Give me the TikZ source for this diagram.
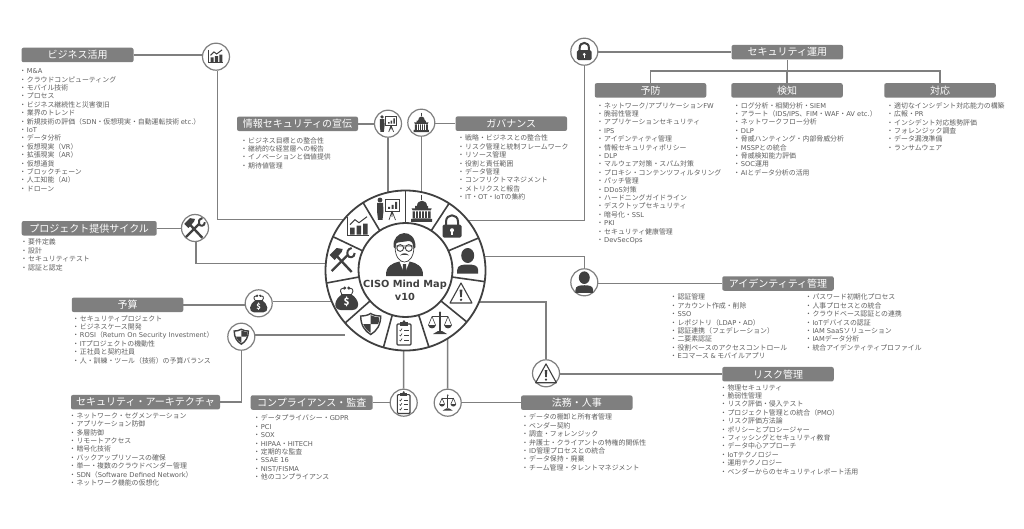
\documentclass[tikz,border=0pt]{standalone}
\usepackage{fontspec}
\usepackage{xcolor}
\setmainfont{Noto Sans CJK JP}
\newfontfamily\hubfont{DejaVu Sans}
\usetikzlibrary{arrows,positioning}
\definecolor{boxgray}{HTML}{7F7F7F}
\definecolor{icondark}{HTML}{404040}
\definecolor{txtgray}{HTML}{5F5F5F}
\newcommand\lidot{\kern-2.5pt・\kern.6pt}
\newcommand\la[1]{{\hubfont\fontsize{6.7}{8.4}\selectfont #1}}
\tikzset{
  headbox/.style={fill=boxgray,rounded corners=2pt,inner sep=0,minimum height=14.5pt,text=white,font=\fontsize{10}{12}\selectfont},
  listtext/.style={anchor=north west,inner sep=0,align=left,text=txtgray,yshift=-1pt,font=\fontsize{6.9}{8.4}\selectfont},
  bubble/.style={circle,draw=boxgray,line width=1.2pt,fill=white,minimum size=27pt,inner sep=0},
  link/.style={draw=boxgray,line width=1.5pt},
  charticon/.pic={
    \draw[icondark,line width=.9pt] (-11,-10) -- (-11,9) -- (11,9);
    \fill[icondark] (-8,1) rectangle (-3.5,8) (-1.5,-1) rectangle (3,8) (5,-3) rectangle (9.5,8);
    \draw[icondark,line width=1pt] (-8,-2) -- (-3,-7) -- (1,-4) -- (9,-10);
  },
  talkicon/.pic={
    \fill[icondark] (-8,-9) circle (2.4);
    \fill[icondark] (-11,-6) -- (-5,-6) -- (-4.5,2) -- (-5.5,11) -- (-10,11) -- (-11,2) -- cycle;
    \draw[icondark,line width=.9pt,fill=white] (-3,-10) rectangle (11,2);
    \fill[icondark] (0,-2) rectangle (2,0) (3.5,-4) rectangle (5.5,0) (7,-7) rectangle (9,0);
    \draw[icondark,line width=.7pt] (4,2) -- (1,11) (4,2) -- (7.5,11) (4,2) -- (4,8);
  },
  domeicon/.pic={
    \draw[icondark,line width=.9pt] (0,-14) -- (0,-9);
    \fill[icondark] (-5,-3) .. controls (-5,-10) and (5,-10) .. (5,-3) -- cycle;
    \fill[icondark] (-6.5,-3) rectangle (6.5,-.5) (-10,-.5) -- (10,-.5) -- (9,1.5) -- (-9,1.5) -- cycle;
    \fill[icondark] (-9,2.5) rectangle (9,9.5) (-10.5,10) rectangle (10.5,13);
    \draw[white,line width=.8pt] (-6,2.5) -- (-6,9.5) (-3,2.5) -- (-3,9.5) (0,2.5) -- (0,9.5) (3,2.5) -- (3,9.5) (6,2.5) -- (6,9.5);
  },
  lockicon/.pic={
    \draw[icondark,line width=2pt] (-6,-1) -- (-6,-5) .. controls (-6,-13.5) and (6,-13.5) .. (6,-5) -- (6,-1);
    \fill[icondark,rounded corners=1.5pt] (-9.5,-2) rectangle (9.5,11);
    \fill[white] (0,3.5) circle (2);
    \fill[white] (-.8,3.5) rectangle (.8,8);
  },
  usericon/.pic={
    \fill[icondark] (0,-5.5) ellipse (6.5 and 7.5);
    \fill[icondark] (-10.5,12.5) -- (-10.5,9) .. controls (-10.5,4) and (-5,3.5) .. (0,3.5) .. controls (5,3.5) and (10.5,4) .. (10.5,9) -- (10.5,12.5) -- cycle;
  },
  warnicon/.pic={
    \draw[icondark,line width=1.1pt,line join=round] (0,-10) -- (11,10) -- (-11,10) -- cycle;
    \fill[icondark] (-1.4,-3.5) -- (1.4,-3.5) -- (.8,4) -- (-.8,4) -- cycle;
    \fill[icondark] (0,6.8) circle (1.3);
  },
  balanceicon/.pic={
    \draw[icondark,line width=1.5pt] (0,-10) -- (0,8);
    \fill[icondark] (0,-10.5) circle (1.2);
    \fill[icondark] (-2,8) -- (2,8) -- (7,11) -- (-7,11) -- cycle;
    \draw[icondark,line width=1.1pt] (-8,-6.5) -- (8,-6.5);
    \draw[icondark,line width=.6pt] (-8,-6.5) -- (-11.5,2) (-8,-6.5) -- (-4.5,2) (8,-6.5) -- (11.5,2) (8,-6.5) -- (4.5,2);
    \fill[icondark] (-12,2) .. controls (-11,6.5) and (-5,6.5) .. (-4,2) -- cycle;
    \fill[icondark] (12,2) .. controls (11,6.5) and (5,6.5) .. (4,2) -- cycle;
  },
  checkicon/.pic={
    \draw[icondark,line width=1.1pt,rounded corners=1pt] (-7,-9) rectangle (7,12);
    \fill[icondark] (-4,-11) rectangle (4,-7);
    \fill[icondark] (0,-11.5) circle (1.3);
    \draw[icondark,line width=.6pt] (-4.5,-3) -- (-3.5,-2) -- (-2,-4.5) (-4.5,2) -- (-3.5,3) -- (-2,.5) (-4.5,7) -- (-3.5,8) -- (-2,5.5);
    \draw[icondark,line width=.6pt] (0,-3) -- (4.5,-3) (0,2) -- (4.5,2) (0,7) -- (4.5,7);
  },
  shieldicon/.pic={
    \draw[icondark,line width=1.4pt,fill=white] (0,-10.5) .. controls (-3,-8.5) and (-7,-8) .. (-10,-8) .. controls (-10,1) and (-6,7) .. (0,10.5) .. controls (6,7) and (10,1) .. (10,-8) .. controls (7,-8) and (3,-8.5) .. (0,-10.5) -- cycle;
    \fill[icondark] (0,-8.8) .. controls (3,-7.3) and (6,-6.8) .. (8.5,-6.6) .. controls (8.5,-3) and (8,-2) .. (7.5,0) -- (0,0) -- cycle;
    \fill[icondark] (0,0) -- (-7.5,0) .. controls (-6,4) and (-3,7) .. (0,8.8) -- cycle;
  },
  bagicon/.pic={
    \fill[icondark] (-4,-4) .. controls (-13,1) and (-14,11.5) .. (-6,12) -- (6,12) .. controls (14,11.5) and (13,1) .. (4,-4) -- cycle;
    \draw[icondark,line width=.9pt] (-5,-4) .. controls (-8,-8) and (-5,-11) .. (-2,-9) (5,-4) .. controls (8,-8) and (5,-11) .. (2,-9);
    \fill[icondark] (-2,-10) circle (1.6) (2,-10) circle (1.6);
    \fill[icondark] (-5.5,-4.5) rectangle (5.5,-3);
    \node[text=white,inner sep=0,transform shape,font=\bfseries\fontsize{10}{10}\selectfont] (dollar) at (0,4) {\$};
  },
  toolicon/.pic={
    \draw[icondark,line width=2.4pt] (9,12) -- (-6,-4);
    \fill[icondark] (-13,-5) -- (-6,-12) -- (0,-11) -- (-1,-8) -- (-8,0) -- cycle;
    \draw[icondark,line width=2.4pt] (-11,11) -- (5,-5);
    \draw[icondark,line width=2pt] (12,-7) .. controls (12,-2) and (6,-1.5) .. (5,-5) .. controls (4,-8) and (5,-11) .. (9,-12);
  },
  cisoicon/.pic={
    \fill[icondark] (-18.5,26) .. controls (-19,16) and (-12,13) .. (-5,11.5) -- (5,11.5) .. controls (12,13) and (19,16) .. (18.5,26) -- cycle;
    \fill[white] (-5,11.5) -- (0,24) -- (5,11.5) -- cycle;
    \fill[icondark] (-1.5,14) -- (1.5,14) -- (2,22) -- (0,26) -- (-2,22) -- cycle;
    \draw[icondark,line width=.7pt,fill=white] (-9.5,-4) .. controls (-9.5,8) and (-4,12) .. (0,12) .. controls (4,12) and (9.5,8) .. (9.5,-4) -- cycle;
    \fill[icondark] (-11,-3) .. controls (-12.5,-20) and (11,-23) .. (11,-3) -- (9,-1) .. controls (9,-7) and (7,-9) .. (4,-9) .. controls (-1,-8) and (-6,-8) .. (-8,-7) .. controls (-9,-5) and (-9,-3) .. (-9,-1) -- cycle;
    \draw[icondark,line width=.9pt] (-4.3,-2) circle (3.4) (4.3,-2) circle (3.4) (-1,-2) -- (1,-2);
    \fill[icondark] (-4.5,5.5) .. controls (-2,2.5) and (2,2.5) .. (4.5,5.5) .. controls (2,4.5) and (-2,4.5) .. (-4.5,5.5) -- cycle;
  }
}
\begin{document}
\begin{tikzpicture}[x=1pt,y=-1pt]
\useasboundingbox[fill=white] (0,0) rectangle (1024,529);
\node[headbox,minimum width=112pt] (bizbox) at (77.5,55) {ビジネス活用};
\node[headbox,minimum width=121pt] (awarebox) at (297.5,123.8) {情報セキュリティの宣伝};
\node[headbox,minimum width=135pt] (projbox) at (89.2,228.3) {プロジェクト提供サイクル};
\node[headbox,minimum width=111.5pt] (govbox) at (511.3,123.7) {ガバナンス};
\node[headbox,minimum width=111.5pt] (opsbox) at (787.3,52.2) {セキュリティ運用};
\node[headbox,minimum width=111.5pt] (prevbox) at (650.5,90.4) {予防};
\node[headbox,minimum width=111.5pt] (detbox) at (787,90.4) {検知};
\node[headbox,minimum width=111.5pt] (respbox) at (940,90.4) {対応};
\node[headbox,minimum width=111.5pt] (idbox) at (778,283.5) {アイデンティティ管理};
\node[headbox,minimum width=111.5pt] (riskbox) at (778,374.2) {リスク管理};
\node[headbox,minimum width=111.5pt] (legalbox) at (576.8,402.7) {法務・人事};
\node[headbox,minimum width=122pt] (compbox) at (311.7,402.5) {コンプライアンス・監査};
\node[headbox,minimum width=111.5pt] (budgbox) at (127.5,304.8) {予算};
\node[headbox,minimum width=149pt] (archbox) at (145.5,402.2) {セキュリティ・アーキテクチャ};

\node[bubble] (chart) at (216,56.7) {};
\node[bubble] (tools) at (195,228) {};
\node[bubble] (talk) at (388,123.7) {};
\node[bubble] (dome) at (421.3,122.7) {};
\node[bubble] (lock) at (584.3,51.7) {};
\node[bubble] (user) at (584.3,282.3) {};
\node[bubble] (warn) at (546,373.3) {};
\node[bubble] (balance) at (447.7,402.7) {};
\node[bubble] (check) at (403.7,402.7) {};
\node[bubble] (bag) at (258.7,303.3) {};
\node[bubble] (shield) at (241.3,336.7) {};

\coordinate (wchart) at (345,219.5);
\coordinate (wtools) at (335,263.3);
\coordinate (wtalk) at (388,200);
\coordinate (wdome) at (421.3,200);
\coordinate (wlock) at (465,220.7);
\coordinate (wuser) at (480,256.7);
\coordinate (wwarn) at (475,302);
\coordinate (wbalance) at (447.5,335);
\coordinate (wcheck) at (403.5,345);
\coordinate (wbag) at (335,301.7);
\coordinate (wshield) at (345,335);
\coordinate (tree) at (787,71);

\draw[link] (bizbox.east) -- (bizbox.east -| chart.west);
\draw[link] (chart.south -| 217.5,0) |- (wchart);
\draw[link] (projbox.east) -- (projbox.east -| tools.west);
\draw[link] (tools.south -| 196,0) |- (wtools);
\draw[link] (awarebox.east) -- (awarebox.east -| talk.west);
\draw[link] (talk) -- (wtalk);
\draw[link] (dome) -- (wdome);
\draw[link] (dome.east |- govbox.west) -- (govbox.west);
\draw[link] (lock.east |- opsbox.west) -- (opsbox.west);
\draw[link] (lock) |- (wlock);
\draw[link] (user.north) |- (wuser);
\draw[link] (user.east |- idbox.west) -- (idbox.west);
\draw[link] (warn.north) |- (wwarn);
\draw[link] (warn.east |- riskbox.west) -- (riskbox.west);
\draw[link] (balance) -- (wbalance);
\draw[link] (balance.east |- legalbox.west) -- (legalbox.west);
\draw[link] (check) -- (wcheck);
\draw[link] (compbox.east) -- (compbox.east -| check.west);
\draw[link] (budgbox.east) -- (budgbox.east -| bag.west);
\draw[link] (bag.east |- wbag) -- (wbag);
\draw[link] (shield.east |- wshield) -- (wshield);
\draw[link] (shield.south) |- (archbox.east);
\draw[link] (opsbox.south) -- (opsbox.south |- tree);
\draw[link] (prevbox.north) |- (tree);
\draw[link] (respbox.north) |- (tree);
\draw[link] (tree) -- (detbox.north);

\node[circle,draw=icondark,line width=1.8pt,fill=white,minimum size=160pt,inner sep=0,outer sep=0] (wheel) at (405.5,270.5) {};
\draw[icondark,line width=1.6pt] (wheel.90) -- (405.5,223);
\draw[icondark,line width=1.6pt] (wheel.57.3) -- (431,231);
\draw[icondark,line width=1.6pt] (wheel.24.5) -- (448,251);
\draw[icondark,line width=1.6pt] (wheel.-8.2) -- (452,277);
\draw[icondark,line width=1.6pt] (wheel.-40.9) -- (441,301);
\draw[icondark,line width=1.6pt] (wheel.-73.6) -- (419,316);
\draw[icondark,line width=1.6pt] (wheel.-106.4) -- (392,316);
\draw[icondark,line width=1.6pt] (wheel.-139.1) -- (370,301);
\draw[icondark,line width=1.6pt] (wheel.-171.8) -- (359,277);
\draw[icondark,line width=1.6pt] (wheel.155.5) -- (363,251);
\draw[icondark,line width=1.6pt] (wheel.122.7) -- (380,231);
\node[circle,draw=icondark,line width=1.8pt,fill=white,minimum size=94pt,inner sep=0] (hub) at (405.5,270) {};

\pic at (358,226.7) {charticon};
\pic at (388,209) {talkicon};
\pic at (421.7,209) {domeicon};
\pic at (452,226.7) {lockicon};
\pic at (467.7,261) {usericon};
\pic at (461,293) {warnicon};
\pic at (440,323) {balanceicon};
\pic at (404,333) {checkicon};
\pic at (370.7,324) {shieldicon};
\pic at (346.7,298) {bagicon};
\pic at (342.7,260) {toolicon};

\pic[scale=.68] at (216,56.7) {charticon};
\pic[scale=.82] at (195,228) {toolicon};
\pic[scale=.75] at (388,123.7) {talkicon};
\pic[scale=.72] at (421.3,122.7) {domeicon};
\pic[scale=.77] at (584.3,51.7) {lockicon};
\pic[scale=.84] at (584.3,282.3) {usericon};
\pic[scale=.94] at (546,373.3) {warnicon};
\pic[scale=.71] at (447.7,402.7) {balanceicon};
\pic[scale=.9] at (403.7,402.7) {checkicon};
\pic[scale=.76] at (258.7,303.3) {bagicon};
\pic[scale=.71] at (241.3,336.7) {shieldicon};

\pic at (404.5,250) {cisoicon};
\node[inner sep=0,align=center,text=icondark,font=\hubfont\bfseries\fontsize{9.8}{12.7}\selectfont] (title) at (405,290.5) {CISO Mind Map\\v10};

\node[listtext] (bizlist) at (21.7,67.5) {\lidot \la{M\&A}\\\lidot クラウドコンピューティング\\\lidot モバイル技術\\\lidot プロセス\\\lidot ビジネス継続性と災害復旧\\\lidot 業界のトレンド\\\lidot 新規技術の評価（\la{SDN}・仮想現実・自動運転技術 \la{etc.}）\\\lidot \la{IoT}\\\lidot データ分析\\\lidot 仮想現実（\la{VR}）\\\lidot 拡張現実（\la{AR}）\\\lidot 仮想通貨\\\lidot ブロックチェーン\\\lidot 人工知能（\la{AI}）\\\lidot ドローン};
\node[listtext] (awarelist) at (243,136.2) {\lidot ビジネス目標との整合性\\\lidot 継続的な経営層への報告\\\lidot イノベーションと価値提供\\\lidot 期待値管理};
\node[listtext] (projlist) at (23,237.9) {\lidot 要件定義\\\lidot 設計\\\lidot セキュリティテスト\\\lidot 認証と認定};
\node[listtext] (govlist) at (460,133.9) {\lidot 戦略・ビジネスとの整合性\\\lidot リスク管理と統制フレームワーク\\\lidot リソース管理\\\lidot 役割と責任範囲\\\lidot データ管理\\\lidot コンフリクトマネジメント\\\lidot メトリクスと報告\\\lidot \la{IT}・\la{OT}・\la{IoT}の集約};
\node[listtext] (prevlist) at (599,101.2) {\lidot ネットワーク/アプリケーション\la{FW}\\\lidot 脆弱性管理\\\lidot アプリケーションセキュリティ\\\lidot \la{IPS}\\\lidot アイデンティティ管理\\\lidot 情報セキュリティポリシー\\\lidot \la{DLP}\\\lidot マルウェア対策・スパム対策\\\lidot プロキシ・コンテンツフィルタリング\\\lidot パッチ管理\\\lidot \la{DDoS}対策\\\lidot ハードニングガイドライン\\\lidot デスクトップセキュリティ\\\lidot 暗号化・\la{SSL}\\\lidot \la{PKI}\\\lidot セキュリティ健康管理\\\lidot \la{DevSecOps}};
\node[listtext] (detlist) at (735.7,101.2) {\lidot ログ分析・相関分析・\la{SIEM}\\\lidot アラート（\la{IDS/IPS}、\la{FIM}・\la{WAF}・\la{AV etc.}）\\\lidot ネットワークフロー分析\\\lidot \la{DLP}\\\lidot 脅威ハンティング・内部脅威分析\\\lidot \la{MSSP}との統合\\\lidot 脅威検知能力評価\\\lidot \la{SOC}運用\\\lidot \la{AI}とデータ分析の活用};
\node[listtext] (resplist) at (889,101.2) {\lidot 適切なインシデント対応能力の構築\\\lidot 広報・\la{PR}\\\lidot インシデント対応態勢評価\\\lidot フォレンジック調査\\\lidot データ漏洩準備\\\lidot ランサムウェア};
\node[listtext] (idlist) at (672.3,292.9) {\lidot 認証管理\\\lidot アカウント作成・削除\\\lidot \la{SSO}\\\lidot レポジトリ（\la{LDAP}・\la{AD}）\\\lidot 認証連携（フェデレーション）\\\lidot 二要素認証\\\lidot 役割ベースのアクセスコントロール\\\lidot \la{E}コマース \la{\&} モバイルアプリ};
\node[listtext] (idlisttwo) at (807.3,292.9) {\lidot パスワード初期化プロセス\\\lidot 人事プロセスとの統合\\\lidot クラウドベース認証との連携\\\lidot \la{IoT}デバイスの認証\\\lidot \la{IAM SaaS}ソリューション\\\lidot \la{IAM}データ分析\\\lidot 統合アイデンティティプロファイル};
\node[listtext] (risklist) at (722.3,383.2) {\lidot 物理セキュリティ\\\lidot 脆弱性管理\\\lidot リスク評価・侵入テスト\\\lidot プロジェクト管理との統合（\la{PMO}）\\\lidot リスク評価方法論\\\lidot ポリシーとプロシージャー\\\lidot フィッシングとセキュリティ教育\\\lidot データ中心アプローチ\\\lidot \la{IoT}テクノロジー\\\lidot 運用テクノロジー\\\lidot ベンダーからのセキュリティレポート活用};
\node[listtext] (legallist) at (524,412.9) {\lidot データの棚卸と所有者管理\\\lidot ベンダー契約\\\lidot 調査・フォレンジック\\\lidot 弁護士・クライアントの特権的関係性\\\lidot \la{ID}管理プロセスとの統合\\\lidot データ保持・廃棄\\\lidot チーム管理・タレントマネジメント};
\node[listtext] (complist) at (255.7,413.9) {\lidot データプライバシー・\la{GDPR}\\\lidot \la{PCI}\\\lidot \la{SOX}\\\lidot \la{HIPAA}・\la{HITECH}\\\lidot 定期的な監査\\\lidot \la{SSAE 16}\\\lidot \la{NIST/FISMA}\\\lidot 他のコンプライアンス};
\node[listtext] (budglist) at (74.7,314.2) {\lidot セキュリティプロジェクト\\\lidot ビジネスケース開発\\\lidot \la{ROSI}（\la{Return On Security Investment}）\\\lidot \la{IT}プロジェクトの機動性\\\lidot 正社員と契約社員\\\lidot 人・訓練・ツール（技術）の予算バランス};
\node[listtext] (archlist) at (71.3,411.2) {\lidot ネットワーク・セグメンテーション\\\lidot アプリケーション防御\\\lidot 多層防御\\\lidot リモートアクセス\\\lidot 暗号化技術\\\lidot バックアップリソースの確保\\\lidot 単一・複数のクラウドベンダー管理\\\lidot \la{SDN}（\la{Software Defined Network}）\\\lidot ネットワーク機能の仮想化};
\end{tikzpicture}
\end{document}
